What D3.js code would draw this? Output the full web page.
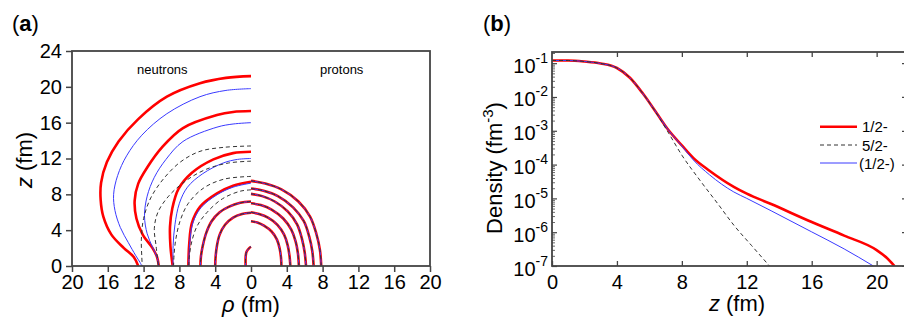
<!DOCTYPE html>
<html>
<head>
<meta charset="utf-8">
<script src="https://cdn.jsdelivr.net/npm/d3@7"></script>
<style>
  body { margin: 0; background: #fff; }
  text { font-family: "Liberation Sans", Arial, sans-serif; fill: #000; }
</style>
</head>
<body>
<div id="plot"></div>
<script>
// ---- panel (a): density contours, points are [rho, z] in fm ----
// neutron side, one contour per level (1e-7 ... 1e-1)
const nRed = [
  [[0,21.2],[2.8,21.0],[5.7,20.4],[9.4,18.9],[12.6,16.4],[14.8,13.9],[16.1,11.6],[16.75,9.3],[16.8,7.4],[16.5,5.5],[15.6,3.5],[14.2,2.0],[13.1,1.0],[12.6,0]],
  [[0,17.3],[2,17.2],[3.8,16.85],[7.6,15.4],[9.9,13.3],[11.6,11.0],[12.6,9.2],[13.0,7.3],[12.8,5.3],[12.1,3.5],[11.0,2.0],[10.5,1.0],[10.3,0]],
  [[0,12.75],[2,12.6],[4.2,11.9],[6.6,10.4],[8.1,8.6],[8.8,6.4],[9.05,4.4],[9.0,2.2],[8.75,0]],
  [[0,9.4],[2,8.95],[3.8,8.1],[5.7,6.6],[6.6,4.8],[6.9,2.5],[7.0,0]],
  [[0,7.2],[1.2,7.05],[2.5,6.6],[3.5,6.0],[4.4,5.0],[5.0,3.7],[5.4,2.2],[5.6,1.0],[5.65,0]],
  [[0,5.95],[1.0,5.8],[2.0,5.4],[2.9,4.6],[3.5,3.5],[3.8,2.3],[3.95,1.1],[4.0,0]],
  [[0,2.15],[0.2,2.0],[0.5,1.6],[0.6,1.0],[0.6,0]]
];
const nBlue = [
  [[0,19.8],[2.8,19.6],[5.7,18.9],[9.4,17.0],[12.2,14.6],[13.9,12.3],[14.9,10.1],[15.35,8.0],[15.2,6.2],[14.6,4.3],[13.7,2.6],[12.9,1.2],[12.4,0.4],[12.2,0]],
  [[0,16.0],[2,15.85],[3.8,15.5],[7.6,13.9],[9.5,11.9],[10.8,9.9],[11.6,7.8],[11.9,5.6],[11.6,3.6],[11.0,2.1],[10.5,1.0],[10.3,0]],
  [[0,12.0],[1.5,11.9],[3.1,11.5],[5.4,10.3],[7.1,8.8],[8.0,7.0],[8.5,4.6],[8.7,2.3],[8.7,0]],
  [[0,9.25],[2,8.8],[3.8,7.95],[5.6,6.5],[6.5,4.8],[6.85,2.5],[6.95,0]],
  nRed[4], nRed[5], nRed[6]
];
const nDash = [
  [[0,13.4],[3,13.25],[5.7,12.8],[7.9,11.6],[9.8,9.7],[11.2,7.6],[12.0,5.3],[12.25,3.0],[12.2,1.0],[12.15,0]],
  [[0,11.7],[2.5,11.5],[5,10.8],[7.3,9.5],[9.2,7.8],[10.4,6.0],[10.8,4.2],[10.6,2.2],[10.35,0]],
  [[0,10.0],[3.0,9.7],[5.3,8.7],[7.0,7.0],[7.9,5.1],[8.4,3.0],[8.6,1.2],[8.65,0]],
  [[0,8.5],[1.2,8.35],[3.2,7.5],[4.9,6.0],[6.0,4.5],[6.6,2.8],[6.9,1.0],[6.95,0]],
  nRed[4], nRed[5], nRed[6]
];
// proton side: all three states lie on top of each other
const pArcs = [
  [[0,9.5],[1.6,9.2],[3.4,8.55],[5.3,7.2],[6.6,5.5],[7.3,3.6],[7.7,1.8],[7.85,0]],
  [[0,8.65],[1.4,8.4],[3.0,7.8],[4.7,6.55],[5.9,5.0],[6.5,3.3],[6.85,1.65],[7.0,0]],
  [[0,8.05],[1.25,7.8],[2.65,7.2],[4.1,6.1],[5.15,4.65],[5.7,3.0],[6.0,1.5],[6.15,0]],
  [[0,7.0],[1.1,6.8],[2.3,6.3],[3.6,5.3],[4.5,4.05],[5.0,2.7],[5.25,1.35],[5.35,0]],
  [[0,6.0],[0.9,5.8],[1.9,5.4],[2.95,4.6],[3.7,3.5],[4.1,2.3],[4.3,1.15],[4.4,0]],
  [[0,5.0],[0.7,4.85],[1.45,4.5],[2.3,3.85],[2.9,2.95],[3.2,1.95],[3.35,0.95],[3.4,0]]
];
const rhoTicks = [-20,-16,-12,-8,-4,0,4,8,12,16,20];
const zTicksA = [0,4,8,12,16,20,24];

// ---- panel (b): density along z (fm^-3) ----
const zRed   = [0,1,2,3,4,4.8,5.6,6.4,7.1,8,8.7,9.7,11.2,12,13.5,16,18,20,20.6,21.1];
const dRed   = [0.12,0.12,0.112,0.098,0.072,0.037,0.0126,0.0036,1.17e-3,3.7e-4,1.58e-4,6.6e-5,2.2e-5,1.38e-5,6.8e-6,2.0e-6,7.9e-7,2.95e-7,1.78e-7,1.0e-7];
const zBlue  = [0,1,2,3,4,4.8,5.6,6.4,7.1,8,8.7,9.7,11.2,12,13.5,16,18,19.8];
const dBlue  = [0.12,0.12,0.112,0.098,0.072,0.037,0.0126,0.0036,1.17e-3,3.55e-4,1.38e-4,5.0e-5,1.55e-5,1.0e-5,4.3e-6,1.02e-6,3.2e-7,1.0e-7];
const zDash  = [0,1,2,3,4,4.8,5.6,6.4,7.1,8,9.1,10.2,11.2,12.3,13.4];
const dDash  = [0.12,0.12,0.112,0.098,0.072,0.037,0.0126,0.0035,1.0e-3,1.9e-4,3.5e-5,7.1e-6,1.62e-6,4.0e-7,1.0e-7];
const zTicksB = [0,4,8,12,16,20];
const decades = [-7,-6,-5,-4,-3,-2,-1];
const legendNames = ["1/2-", "5/2-", "(1/2-)"];

const RED = "#ff0000", BLUE = "#3a3aff", DASH = "#333";
const FRAME = "#444";

const svg = d3.select("#plot").append("svg")
    .attr("width", 904).attr("height", 322);

// ================= panel (a) =================
const xA = d3.scaleLinear().domain([-20, 20]).range([72, 430]);
const yA = d3.scaleLinear().domain([0, 24]).range([266, 51]);

svg.append("clipPath").attr("id", "clipA")
  .append("rect").attr("x", 72).attr("y", 51).attr("width", 358).attr("height", 215);

const gA = svg.append("g").attr("clip-path", "url(#clipA)");
const lineN = d3.line().x(d => xA(-d[0])).y(d => yA(d[1])).curve(d3.curveCatmullRom.alpha(0.5));
const lineP = d3.line().x(d => xA(d[0])).y(d => yA(d[1])).curve(d3.curveCatmullRom.alpha(0.5));

function drawSet(g, data, line, color, width, dash) {
  g.selectAll(null).data(data).enter().append("path")
    .attr("d", line)
    .attr("fill", "none")
    .attr("stroke", color)
    .attr("stroke-width", width)
    .attr("stroke-dasharray", dash || null);
}
drawSet(gA, nRed, lineN, RED, 2.6);
drawSet(gA, pArcs, lineP, RED, 2.6);
drawSet(gA, nBlue, lineN, BLUE, 1);
drawSet(gA, pArcs, lineP, BLUE, 1);
drawSet(gA, nDash, lineN, DASH, 1, "4,3");
drawSet(gA, pArcs, lineP, DASH, 1, "4,3");

svg.append("rect").attr("x", 72).attr("y", 51).attr("width", 358).attr("height", 215)
  .attr("fill", "none").attr("stroke", FRAME).attr("stroke-width", 1.8);

const axA = svg.append("g").attr("transform", "translate(0,266)")
  .call(d3.axisBottom(xA).tickValues(rhoTicks).tickSize(6).tickPadding(3).tickFormat(d => Math.abs(d)));
const ayA = svg.append("g").attr("transform", "translate(72,0)")
  .call(d3.axisLeft(yA).tickValues(zTicksA).tickSize(6).tickPadding(4));
[axA, ayA].forEach(a => {
  a.select(".domain").remove();
  a.selectAll("line").attr("stroke", FRAME).attr("stroke-width", 1.5);
  a.selectAll("text").style("font-size", "20px").attr("font-family", "Liberation Sans, Arial, sans-serif");
});

svg.append("text").attr("x", 137).attr("y", 74).style("font-size", "13px").text("neutrons");
svg.append("text").attr("x", 320).attr("y", 74).style("font-size", "13px").text("protons");

const rt = svg.append("text").attr("x", 251).attr("y", 312).attr("text-anchor", "middle").style("font-size", "22px");
rt.append("tspan").attr("font-style", "italic").text("ρ");
rt.append("tspan").text(" (fm)");

const zt = svg.append("text").attr("transform", "translate(32,160) rotate(-90)")
  .attr("text-anchor", "middle").style("font-size", "22px");
zt.append("tspan").attr("font-style", "italic").text("z");
zt.append("tspan").text(" (fm)");

const la = svg.append("text").attr("x", 12).attr("y", 31).style("font-size", "22px");
la.append("tspan").text("(");
la.append("tspan").attr("font-weight", "bold").text("a");
la.append("tspan").text(")");

// ================= panel (b) =================
const xB = d3.scaleLinear().domain([0, 21.87]).range([552, 907]);
const yB = d3.scaleLog().domain([1e-7, 0.214]).range([266, 52]);

svg.append("clipPath").attr("id", "clipB")
  .append("rect").attr("x", 552).attr("y", 52).attr("width", 355).attr("height", 214);
const gB = svg.append("g").attr("clip-path", "url(#clipB)");

const lineB = d3.line().x(d => xB(d[0])).y(d => yB(d[1])).curve(d3.curveMonotoneX);
const seriesB = [
  { z: zRed, d: dRed, color: RED, w: 2.6, dash: null },
  { z: zDash, d: dDash, color: DASH, w: 1, dash: "4,3" },
  { z: zBlue, d: dBlue, color: BLUE, w: 1, dash: null }
];
[seriesB[0], seriesB[2], seriesB[1]].forEach(s => {
  gB.append("path")
    .datum(s.z.map((z, i) => [z, s.d[i]]))
    .attr("d", lineB)
    .attr("fill", "none")
    .attr("stroke", s.color)
    .attr("stroke-width", s.w)
    .attr("stroke-dasharray", s.dash);
});

svg.append("rect").attr("x", 552).attr("y", 52).attr("width", 355).attr("height", 214)
  .attr("fill", "none").attr("stroke", FRAME).attr("stroke-width", 1.8);

// bottom and top ticks, inward
const axB = svg.append("g").attr("transform", "translate(0,266)")
  .call(d3.axisBottom(xB).tickValues(zTicksB).tickSize(-5).tickPadding(9));
axB.select(".domain").remove();
axB.selectAll("line").attr("stroke", FRAME).attr("stroke-width", 1.3);
axB.selectAll("text").style("font-size", "20px").attr("font-family", "Liberation Sans, Arial, sans-serif");

const atB = svg.append("g").attr("transform", "translate(0,52)")
  .call(d3.axisTop(xB).tickValues(zTicksB.slice(1)).tickSize(-5).tickFormat(""));
atB.select(".domain").remove();
atB.selectAll("line").attr("stroke", FRAME).attr("stroke-width", 1.3);

// left log axis: decades + minor ticks, inward
const minor = [];
decades.forEach(e => { for (let m = 2; m <= 9; m++) { const v = m * Math.pow(10, e); if (v < 0.214) minor.push(v); } });
const ayB = svg.append("g").attr("transform", "translate(552,0)")
  .call(d3.axisLeft(yB).tickValues(decades.map(e => Math.pow(10, e))).tickSize(-5).tickFormat(""));
ayB.select(".domain").remove();
ayB.selectAll("line").attr("stroke", FRAME).attr("stroke-width", 1.2);
const ayBm = svg.append("g").attr("transform", "translate(552,0)")
  .call(d3.axisLeft(yB).tickValues(minor).tickSize(-3).tickFormat(""));
ayBm.select(".domain").remove();
ayBm.selectAll("line").attr("stroke", FRAME).attr("stroke-width", 0.8);

const arB = svg.append("g").attr("transform", "translate(907,0)")
  .call(d3.axisRight(yB).tickValues(decades.map(e => Math.pow(10, e))).tickSize(-5).tickFormat(""));
arB.select(".domain").remove();
arB.selectAll("line").attr("stroke", FRAME).attr("stroke-width", 1.2);

decades.forEach(e => {
  const t = svg.append("text")
    .attr("x", 548).attr("y", yB(Math.pow(10, e)) + 9.5)
    .attr("text-anchor", "end").style("font-size", "20px");
  t.append("tspan").text("10");
  t.append("tspan").attr("dy", -10).style("font-size", "14px").text(e);
});

const dt = svg.append("text").attr("transform", "translate(502,168) rotate(-90)")
  .attr("text-anchor", "middle").style("font-size", "22px");
dt.append("tspan").text("Density (fm");
dt.append("tspan").attr("dy", -9).style("font-size", "15px").text("-3");
dt.append("tspan").attr("dy", 9).text(")");

const zb = svg.append("text").attr("x", 737).attr("y", 311).attr("text-anchor", "middle").style("font-size", "22px");
zb.append("tspan").attr("font-style", "italic").text("z");
zb.append("tspan").text(" (fm)");

const lb = svg.append("text").attr("x", 483).attr("y", 31).style("font-size", "22px");
lb.append("tspan").text("(");
lb.append("tspan").attr("font-weight", "bold").text("b");
lb.append("tspan").text(")");

// legend
const legY = [126.7, 145, 163];
seriesB.forEach((s, i) => {
  svg.append("line").attr("x1", 820).attr("x2", 857).attr("y1", legY[i]).attr("y2", legY[i])
    .attr("stroke", s.color).attr("stroke-width", s.w).attr("stroke-dasharray", s.dash);
  svg.append("text").attr("x", i === 2 ? 859 : 862).attr("y", legY[i] + 5.5)
    .style("font-size", "15px").text(legendNames[i]);
});
</script>
</body>
</html>
